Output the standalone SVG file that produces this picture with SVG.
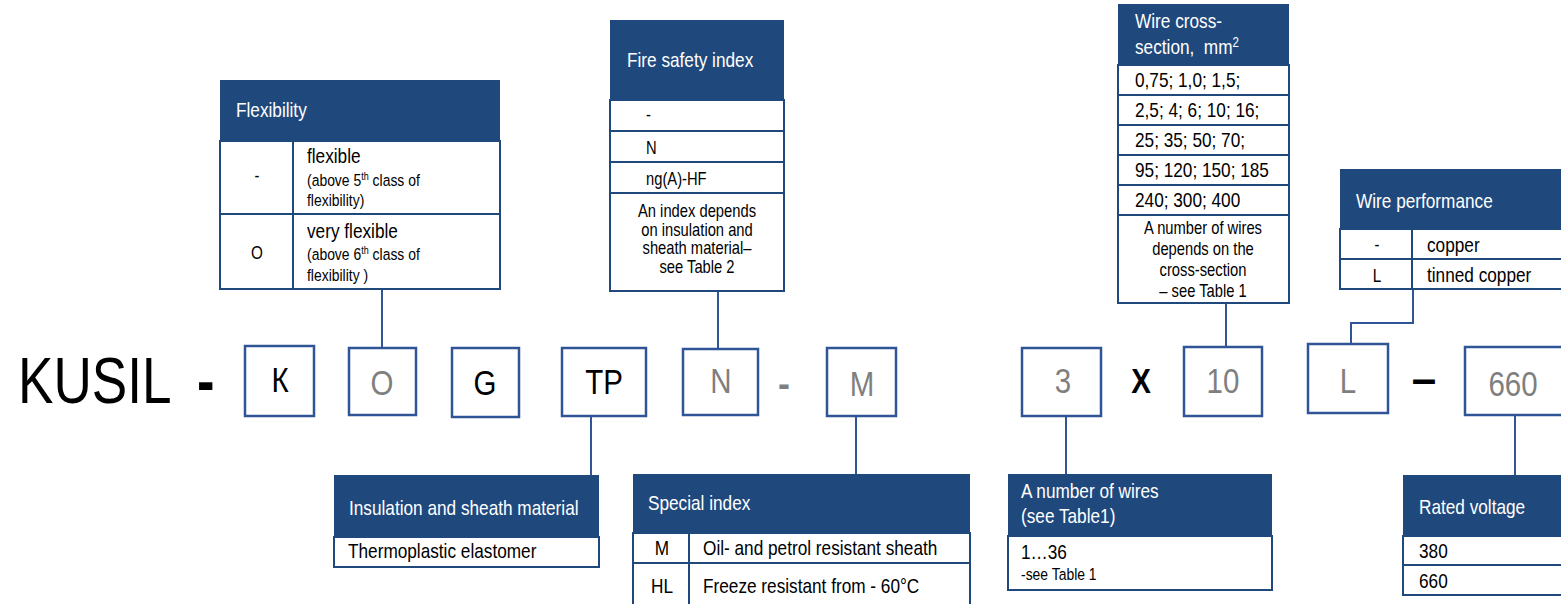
<svg xmlns="http://www.w3.org/2000/svg" width="1561" height="604" viewBox="0 0 1561 604">
<style>
text{font-family:"Liberation Sans",Arial,sans-serif;fill:#000}
.hd{fill:#1f497d}
.bd{fill:#fff;stroke:#1f497d;stroke-width:2}
.ln{stroke:#1f497d;stroke-width:2;fill:none}
.ht{fill:#fff;font-size:21px}
.r{font-size:21px}
.s{font-size:18px}
.xs{font-size:17px}
.c{text-anchor:middle}
.box{fill:#fff;stroke:#2f5597;stroke-width:2.5}
.bl{font-size:36px;text-anchor:middle}
.g{fill:#7f7f7f}
.con{stroke:#2f5597;stroke-width:2;fill:none}
</style>

<g id="connectors">
<line class="con" x1="382" y1="289" x2="382" y2="348"/>
<line class="con" x1="718" y1="291" x2="718" y2="349"/>
<line class="con" x1="1226" y1="290" x2="1226" y2="347"/>
<polyline class="con" points="1413,289 1413,323 1351,323 1351,344"/>
<line class="con" x1="591" y1="416" x2="591" y2="475"/>
<line class="con" x1="856" y1="416" x2="856" y2="474"/>
<line class="con" x1="1066" y1="416" x2="1066" y2="474"/>
<line class="con" x1="1515" y1="415" x2="1515" y2="475"/>
</g>

<g id="code">
<text transform="translate(18,403) scale(.83,1)" font-size="64">KUSIL</text>
<text transform="translate(197,403) scale(.82,1)" font-size="64" font-weight="bold">-</text>
<text x="778" y="396" font-size="36" font-weight="bold" class="g">-</text>
<text transform="translate(1141,393) scale(.82,1)" font-size="36" font-weight="bold" text-anchor="middle">X</text>
<text x="1424" y="394" font-size="44" font-weight="bold" text-anchor="middle">–</text>
</g>

<g id="box-K"><rect class="box" x="245" y="346" width="69" height="70"/><text class="bl" transform="translate(280,392) scale(.82,1)">К</text></g>
<g id="box-O"><rect class="box" x="349" y="348" width="67" height="67"/><text class="bl g" transform="translate(382,395) scale(.82,1)">O</text></g>
<g id="box-G"><rect class="box" x="452" y="348" width="67" height="69"/><text class="bl" transform="translate(485,395) scale(.82,1)">G</text></g>
<g id="box-TP"><rect class="box" x="562" y="348" width="84" height="68"/><text class="bl" transform="translate(604,394) scale(.82,1)">TP</text></g>
<g id="box-N"><rect class="box" x="683" y="349" width="75" height="66"/><text class="bl g" transform="translate(721,393) scale(.82,1)">N</text></g>
<g id="box-M"><rect class="box" x="827" y="348" width="69" height="68"/><text class="bl g" transform="translate(862,396) scale(.82,1)">M</text></g>
<g id="box-3"><rect class="box" x="1022" y="348" width="79" height="68"/><text class="bl g" transform="translate(1063,393) scale(.82,1)">3</text></g>
<g id="box-10"><rect class="box" x="1184" y="347" width="78" height="69"/><text class="bl g" transform="translate(1223,393) scale(.82,1)">10</text></g>
<g id="box-L"><rect class="box" x="1308" y="344" width="80" height="69"/><text class="bl g" transform="translate(1348,393) scale(.82,1)">L</text></g>
<g id="box-660"><rect class="box" x="1465" y="347" width="100" height="68"/><text class="bl g" transform="translate(1513,396) scale(.82,1)">660</text></g>

<g id="flexibility">
<rect class="hd" x="220" y="80" width="280" height="61"/>
<rect class="bd" x="220" y="141" width="280" height="148"/>
<line class="ln" x1="293" y1="141" x2="293" y2="289"/>
<line class="ln" x1="220" y1="214" x2="500" y2="214"/>
<text class="ht" transform="translate(236,117) scale(.82,1)">Flexibility</text>
<text class="s c" transform="translate(257,182) scale(.82,1)">-</text>
<text class="r" transform="translate(307,163) scale(.82,1)">flexible</text>
<text class="xs" transform="translate(307,186) scale(.82,1)">(above 5<tspan font-size="11" dy="-6">th</tspan><tspan dy="6"> class of</tspan></text>
<text class="xs" transform="translate(307,206) scale(.82,1)">flexibility)</text>
<text class="s c" transform="translate(257,259) scale(.85,1)" font-size="19">O</text>
<text class="r" transform="translate(307,238) scale(.82,1)">very flexible</text>
<text class="xs" transform="translate(307,260) scale(.82,1)">(above 6<tspan font-size="11" dy="-6">th</tspan><tspan dy="6"> class of</tspan></text>
<text class="xs" transform="translate(307,281) scale(.82,1)">flexibility )</text>
</g>

<g id="fire-safety">
<rect class="hd" x="610" y="20" width="174" height="80"/>
<rect class="bd" x="610" y="100" width="174" height="191"/>
<line class="ln" x1="610" y1="131" x2="784" y2="131"/>
<line class="ln" x1="610" y1="162" x2="784" y2="162"/>
<line class="ln" x1="610" y1="193" x2="784" y2="193"/>
<text class="ht" transform="translate(627,67) scale(.82,1)">Fire safety index</text>
<text class="s" transform="translate(646,121) scale(.82,1)">-</text>
<text class="s" transform="translate(646,154) scale(.82,1)">N</text>
<text class="s" transform="translate(646,185) scale(.82,1)">ng(A)-HF</text>
<text class="s c" transform="translate(697,217) scale(.82,1)">An index depends</text>
<text class="s c" transform="translate(697,236) scale(.82,1)">on insulation and</text>
<text class="s c" transform="translate(697,254) scale(.82,1)">sheath material–</text>
<text class="s c" transform="translate(697,273) scale(.82,1)">see Table 2</text>
</g>

<g id="wire-cross-section">
<rect class="hd" x="1118" y="4" width="171" height="61"/>
<rect class="bd" x="1118" y="65" width="171" height="238"/>
<line class="ln" x1="1118" y1="95" x2="1289" y2="95"/>
<line class="ln" x1="1118" y1="125" x2="1289" y2="125"/>
<line class="ln" x1="1118" y1="155" x2="1289" y2="155"/>
<line class="ln" x1="1118" y1="185" x2="1289" y2="185"/>
<line class="ln" x1="1118" y1="215" x2="1289" y2="215"/>
<text class="ht" transform="translate(1135,28) scale(.82,1)">Wire cross-</text>
<text class="ht" transform="translate(1135,54) scale(.82,1)">section,&#160; mm<tspan font-size="14" dy="-7">2</tspan></text>
<text class="r" transform="translate(1135,87) scale(.82,1)">0,75; 1,0; 1,5;</text>
<text class="r" transform="translate(1135,117) scale(.82,1)">2,5; 4; 6; 10; 16;</text>
<text class="r" transform="translate(1135,147) scale(.82,1)">25; 35; 50; 70;</text>
<text class="r" transform="translate(1135,177) scale(.82,1)">95; 120; 150; 185</text>
<text class="r" transform="translate(1135,207) scale(.82,1)">240; 300; 400</text>
<text class="s c" transform="translate(1203,234) scale(.82,1)">A number of wires</text>
<text class="s c" transform="translate(1203,255) scale(.82,1)">depends on the</text>
<text class="s c" transform="translate(1203,276) scale(.82,1)">cross-section</text>
<text class="s c" transform="translate(1203,297) scale(.82,1)">– see Table 1</text>
</g>

<g id="wire-performance">
<rect class="hd" x="1340" y="169" width="230" height="60"/>
<rect class="bd" x="1340" y="229" width="230" height="60"/>
<line class="ln" x1="1412" y1="229" x2="1412" y2="289"/>
<line class="ln" x1="1340" y1="259" x2="1570" y2="259"/>
<text class="ht" transform="translate(1356,208) scale(.82,1)">Wire performance</text>
<text class="s c" transform="translate(1377,251) scale(.82,1)">-</text>
<text class="r" transform="translate(1427,252) scale(.82,1)">copper</text>
<text class="s c" transform="translate(1377,282) scale(.85,1)" font-size="19">L</text>
<text class="r" transform="translate(1427,282) scale(.82,1)">tinned copper</text>
</g>

<g id="insulation">
<rect class="hd" x="334" y="475" width="265" height="62"/>
<rect class="bd" x="334" y="537" width="265" height="30"/>
<text class="ht" transform="translate(349,515) scale(.82,1)">Insulation and sheath material</text>
<text class="r" transform="translate(348,558) scale(.82,1)">Thermoplastic elastomer</text>
</g>

<g id="special-index">
<rect class="hd" x="633" y="474" width="337" height="59"/>
<rect class="bd" x="633" y="533" width="337" height="80"/>
<line class="ln" x1="689" y1="533" x2="689" y2="613"/>
<line class="ln" x1="633" y1="563" x2="970" y2="563"/>
<text class="ht" transform="translate(648,510) scale(.82,1)">Special index</text>
<text class="r c" transform="translate(662,555) scale(.82,1)">M</text>
<text class="r" transform="translate(703,555) scale(.82,1)">Oil- and petrol resistant sheath</text>
<text class="r c" transform="translate(662,593) scale(.82,1)">HL</text>
<text class="r" transform="translate(703,593) scale(.82,1)">Freeze resistant from - 60°C</text>
</g>

<g id="number-of-wires">
<rect class="hd" x="1008" y="474" width="264" height="62"/>
<rect class="bd" x="1008" y="536" width="264" height="54"/>
<text class="ht" transform="translate(1021,498) scale(.82,1)">A number of wires</text>
<text class="ht" transform="translate(1021,523) scale(.82,1)">(see Table1)</text>
<text class="r" transform="translate(1021,559) scale(.82,1)">1…36</text>
<text class="xs" transform="translate(1021,580) scale(.82,1)">-see Table 1</text>
</g>

<g id="rated-voltage">
<rect class="hd" x="1403" y="475" width="170" height="61"/>
<rect class="bd" x="1403" y="536" width="170" height="59"/>
<line class="ln" x1="1403" y1="565" x2="1573" y2="565"/>
<text class="ht" transform="translate(1419,514) scale(.82,1)">Rated voltage</text>
<text class="r" transform="translate(1419,558) scale(.82,1)">380</text>
<text class="r" transform="translate(1419,588) scale(.82,1)">660</text>
</g>
</svg>
